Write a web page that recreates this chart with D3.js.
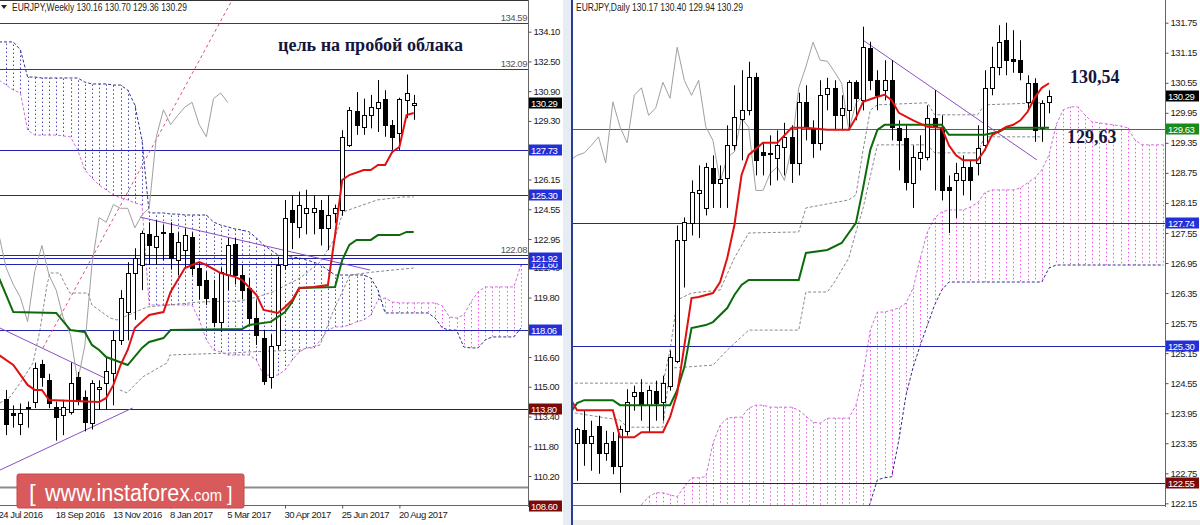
<!DOCTYPE html>
<html><head><meta charset="utf-8">
<script src="https://cdn.jsdelivr.net/npm/d3@7"></script>
<style>
body{margin:0;background:#fff;}
svg{display:block;}
</style></head><body>
<svg id="c" width="1200" height="525"></svg>
<script>
// ================= WEEKLY (left) =================
const wFirst = 1; // index of first candle (0 = 24 Jul 2016)
const wOpen  = [114.35,113.60,113.00,113.85,114.20,116.20,115.35,113.90,113.50,113.65,115.55,114.45,113.05,114.90,115.20,115.75,117.50,119.00,121.10,121.55,123.20,122.50,123.25,123.25,121.80,122.35,123.05,121.40,120.75,119.80,118.50,121.00,122.70,121.00,120.30,118.70,117.60,115.50,117.25,121.55,124.50,123.60,124.35,124.40,124.50,123.55,124.35,124.50,128.00,129.85,129.00,129.60,129.98,130.50,129.10,128.65,130.42,130.16];
const wHigh  = [114.83,114.00,114.10,114.20,116.30,116.45,115.70,114.20,114.30,116.30,115.80,114.80,115.35,115.35,116.60,118.00,120.20,121.70,122.45,123.40,123.85,123.95,123.70,123.85,123.30,123.50,123.30,121.70,121.20,120.75,121.40,123.00,123.00,121.55,120.85,119.65,118.05,117.80,122.00,125.05,125.30,125.50,125.60,125.30,125.05,125.30,124.80,128.80,130.05,130.85,130.50,130.70,131.50,130.95,129.35,130.55,131.80,130.70];
const wLow   = [112.40,112.80,112.40,112.80,113.85,115.00,113.85,112.10,112.40,113.50,114.00,112.60,112.70,113.75,113.75,114.00,117.25,117.50,118.60,120.20,121.55,121.55,121.80,121.30,121.00,121.40,121.00,119.70,119.40,118.20,117.95,120.20,120.50,119.70,118.30,117.25,115.10,114.90,117.00,121.30,122.40,123.00,123.20,123.20,122.60,122.35,123.80,124.20,127.90,128.55,128.55,128.90,128.70,128.45,127.74,127.74,129.45,129.36];
const wClose = [113.00,113.50,113.60,113.90,116.00,115.50,114.10,113.35,113.90,115.20,114.30,113.10,115.20,115.00,115.85,117.50,119.75,121.10,121.90,123.25,122.60,123.10,123.30,121.90,122.80,123.15,121.40,120.50,119.80,118.50,121.20,122.60,121.00,120.20,118.70,117.80,115.30,117.20,121.55,124.10,123.85,124.80,124.60,124.60,123.55,124.25,124.60,128.45,129.90,129.10,129.60,130.05,130.30,129.10,128.45,130.50,130.80,130.29];
const wTenkan = [[0,116.71],[2,116.17],[4,115.10],[5,114.83],[6,114.83],[7,114.29],[14,114.18],[15,114.40],[16,115.10],[17,116.17],[18,116.98],[19,118.16],[21,118.86],[23,119.02],[24,120.10],[26,121.39],[28,121.71],[29,121.55],[31,121.12],[33,120.91],[34,120.74],[36,119.94],[37,119.13],[39,118.97],[40,119.29],[41,119.67],[42,120.31],[44,120.37],[46,120.47],[47,123.16],[48,126.12],[49,126.39],[51,126.66],[52,126.66],[53,126.93],[54,126.93],[55,127.63],[56,127.90],[57,129.62],[58,129.73]];
const wKijun = [[0,120.85],[2,119.02],[8,118.97],[10,118.05],[12,117.95],[13,117.25],[14,116.98],[15,116.60],[18,116.17],[20,117.09],[21,117.41],[23,117.62],[24,118.05],[34,118.11],[35,118.32],[38,118.49],[40,119.02],[41,119.56],[42,120.31],[47,120.37],[48,121.82],[49,122.63],[50,122.90],[52,122.90],[53,123.16],[56,123.16],[57,123.33],[58,123.33]];
const wSpanStart = 0;
const wSpanA = [131.50,131.23,130.96,130.80,128.81,128.54,128.54,128.54,128.54,128.49,128.44,127.74,126.66,126.23,125.85,125.59,125.32,125.16,125.05,124.89,124.78,119.40,119.40,119.40,119.40,119.40,119.40,119.40,118.59,117.52,116.98,116.87,116.71,116.71,116.71,116.71,116.44,115.63,115.63,115.63,115.90,116.44,116.87,117.09,117.09,117.52,118.05,118.22,118.22,118.32,118.49,118.59,118.86,119.67,119.78,119.56,119.51,119.51,119.51,119.51,119.51,119.51,119.35,118.75,118.70,118.86,119.56,120.10,120.37,120.37,120.37,120.37,120.37,121.55];
const wSpanB = [133.55,133.55,133.55,133.12,131.66,131.66,131.61,131.61,131.61,131.61,131.61,131.61,131.39,131.29,131.29,131.29,131.23,131.23,130.96,130.16,128.27,124.35,124.35,124.35,124.29,124.29,124.24,124.24,124.24,124.24,123.86,123.70,123.60,123.49,123.43,123.33,123.00,122.63,122.36,122.09,122.03,121.98,121.93,121.82,121.71,121.55,121.28,121.01,121.01,121.01,121.01,121.01,120.85,120.21,118.97,118.97,118.97,118.97,118.97,118.97,118.97,118.70,118.16,118.05,118.05,117.14,117.09,117.09,117.52,117.68,117.68,117.68,117.68,118.16];
const wShift = 26;
const wUpperDash = [[0.14,114.13],[1.54,114.45],[2.94,115.20],[4.76,116.28],[5.73,118.05],[6.71,120.47],[7.13,121.12],[8.53,121.12],[8.95,120.74],[9.93,120.04],[12.45,120.04],[13.0,119.40],[15.52,118.70],[16.5,118.59],[20.7,119.29],[28.1,119.56],[33.7,119.61],[36.1,119.83],[38.3,120.10],[42.1,120.85],[44.9,121.71],[47.0,123.00],[48.1,124.40],[50.07,124.67],[52.9,125.05],[56.5,125.21],[58,125.21]];
const wLowerDash = [[16.9,114.83],[17.9,114.67],[20.1,115.53],[23.5,116.28],[23.9,116.71],[32.7,116.82],[34.7,116.87],[42.1,116.98],[44.9,117.25],[46.7,119.02],[49.1,121.01],[52.3,121.17],[58,121.39]];
const wSteepLine = [[6.15,117.09],[32.6,135.80]];
const wTrend1 = [[0.14,118.16],[14.8,115.47]];
const wTrend2 = [[0.14,110.52],[18.7,113.86]];
const wTrend3 = [[19.7,124.13],[51.9,121.28]];
const wDateIdx = [0,8,16,24,32,40,48,56];
const wDateLabels = ["24 Jul 2016","18 Sep 2016","13 Nov 2016","8 Jan 2017","5 Mar 2017","30 Apr 2017","25 Jun 2017","20 Aug 2017"];
const wTicks = [134.10,132.50,130.90,129.30,126.15,124.55,122.95,121.40,119.80,116.60,115.00,113.40,111.80,110.20];
const wNoteLevels = [134.59,132.09];
const wBlueNoteLevels = [122.08];
const wBlueLevels = [127.73,125.30,121.60,121.92,118.06];
const wRedLevels = [113.80,108.60];
const wGrayLevels = [109.61];
const wLast = 130.29;

// ================= DAILY (right) =================
const dFirst = -6; // index 0 = 15 Jun 2017
const dOpen  = [123.36,123.62,123.36,123.70,123.16,123.40,122.90,123.60,124.30,124.37,124.12,124.40,124.17,124.50,125.00,127.40,127.74,128.35,128.05,128.85,128.55,128.65,129.30,129.83,130.00,130.67,129.17,129.12,129.05,129.27,129.47,128.95,130.17,129.65,129.35,130.33,130.45,129.90,130.00,130.56,130.20,131.24,130.60,130.40,130.60,129.65,129.45,128.55,129.05,129.07,129.85,129.66,128.47,128.60,128.60,128.87,128.95,129.30,130.45,130.87,131.40,131.02,131.00,130.17,130.54,129.64,130.17];
const dHigh  = [123.66,124.00,123.80,123.90,123.60,123.57,123.70,124.43,124.50,124.63,124.50,124.60,124.70,125.20,127.70,127.86,128.60,128.90,128.95,129.10,128.90,129.70,130.50,130.80,130.97,130.75,129.35,129.50,129.60,129.75,129.70,130.35,130.50,129.80,130.60,130.65,130.60,130.30,130.60,130.60,131.67,131.37,130.80,131.00,131.00,129.80,129.70,129.30,129.50,130.10,130.40,129.90,128.70,128.95,129.10,129.00,129.70,130.80,131.27,131.70,131.75,131.60,131.40,130.70,130.64,130.20,130.40];
const dLow   = [122.60,122.90,122.80,122.74,123.00,122.73,122.36,123.50,124.00,123.80,123.56,123.80,123.80,124.40,124.95,126.46,127.50,127.45,127.90,128.05,128.05,128.05,129.20,129.00,129.90,128.70,128.70,128.50,128.60,128.70,128.55,128.70,129.40,129.05,129.20,130.00,129.60,129.60,129.60,129.80,130.00,130.40,130.00,130.20,129.40,128.80,128.40,128.05,128.80,129.00,128.40,128.20,127.55,127.85,128.30,128.20,128.70,129.20,130.30,130.70,130.70,130.75,130.60,130.00,129.37,129.37,129.94];
const dClose = [123.64,123.36,123.50,123.16,123.36,122.90,123.64,124.17,124.37,124.13,124.41,124.16,124.55,125.07,127.40,127.76,128.36,128.40,128.86,128.55,128.62,129.30,129.86,130.00,130.67,129.00,129.10,129.15,129.30,129.47,128.95,130.17,129.67,129.35,130.30,130.45,129.90,130.05,130.56,130.24,131.26,130.60,130.30,130.60,129.67,129.40,128.57,129.06,129.17,129.85,129.66,128.40,128.40,128.74,128.87,128.60,129.25,130.45,130.87,131.36,131.00,130.98,130.77,130.54,129.60,130.14,130.29];
const dTenkan = [[-7,124.25],[-6,124.01],[-1,124.01],[0,123.47],[2,123.47],[3,123.57],[6,123.57],[7,123.87],[8,124.35],[9,125.30],[10,126.25],[11,126.27],[13,126.35],[14,126.57],[15,127.05],[16,127.71],[17,128.71],[18,129.11],[20,129.35],[22,129.35],[24,129.65],[26,129.65],[29,129.61],[32,129.61],[33,129.85],[34,130.17],[36,130.27],[37,130.31],[38,130.20],[39,129.95],[41,129.80],[43,129.67],[45,129.65],[46,129.30],[47,129.10],[48,129.00],[50,129.00],[51,129.20],[52,129.50],[54,129.67],[55,129.71],[56,129.80],[57,129.97],[58,130.25],[59,130.45],[60,130.54]];
const dKijun = [[-7,123.95],[-6,124.15],[-5,124.21],[-1,124.21],[0,124.11],[7,124.11],[8,124.41],[9,124.87],[10,125.65],[12,125.71],[13,125.77],[15,126.05],[16,126.31],[17,126.51],[18,126.61],[25,126.61],[26,127.15],[29,127.21],[31,127.35],[33,127.75],[34,128.45],[35,129.21],[36,129.61],[37,129.71],[45,129.71],[46,129.51],[51,129.51],[53,129.57],[54,129.65],[60,129.65]];
const dSpanAStart = 3;
const dSpanA = [122.12,122.28,122.36,122.36,122.32,122.28,122.48,122.66,122.66,122.68,123.35,123.71,123.85,123.87,123.87,124.05,124.11,124.11,124.07,124.07,124.07,124.07,124.01,123.89,123.77,123.75,123.85,123.85,123.85,123.85,124.11,124.71,125.61,125.97,125.97,126.01,126.05,126.15,126.45,127.05,127.57,127.85,127.97,128.01,128.01,128.01,128.07,128.15,128.35,128.41,128.41,128.41,128.41,128.45,128.55,128.65,128.81,129.11,129.71,130.01,130.07,130.07,129.91,129.77,129.75,129.73,129.71,129.69,129.65,129.41,129.31,129.31,129.31,129.31];
const dSpanBStart = 34;
const dSpanB = [121.82,122.16,122.62,122.66,122.68,123.41,124.31,124.87,125.31,125.71,126.11,126.41,126.57,126.57,126.57,126.57,126.57,126.57,126.57,126.57,126.57,126.57,126.57,126.57,126.57,126.57,126.85,126.91,126.91,126.91,126.91,126.91,126.91,126.91,126.91,126.91,126.91,126.91,126.91,126.91,126.91,126.91,126.91];
const dShift = 26;
const dUpperDash = [[-7,124.55],[6,124.55],[7,125.21],[8,126.21],[10,126.35],[14,126.41],[16,127.05],[18,127.55],[25,127.57],[26,128.05],[32,128.21],[33,128.31],[34,129.21],[35,130.00],[36,130.11],[43,130.15],[44,129.91],[50,129.91],[51,130.11],[59,130.15]];
const dLowerDash = [[-7,123.97],[0,123.81],[1,123.67],[6,123.67],[7,124.85],[13,124.91],[15,125.21],[18,125.61],[25,125.61],[26,126.37],[29,126.37],[30,126.57],[32,127.05],[33,127.57],[34,128.05],[36,129.31],[43,129.31],[44,129.15],[50,129.15],[51,129.47],[59,129.47]];
const dTrend = [[34,131.40],[58.3,129.01]];
const dDateIdx = [-8,0,8,16,24,32,40,48,56];
const dDateLabels = ["5 Jun 2017","15 Jun 2017","27 Jun 2017","7 Jul 2017","19 Jul 2017","31 Jul 2017","10 Aug 2017","22 Aug 2017","1 Sep 2017"];
const dTicks = [131.75,131.15,130.55,129.95,129.35,128.75,128.15,127.55,126.95,126.35,125.75,125.15,124.55,123.95,123.35,122.75,122.15];
const dGreenLevels = [129.63];
const dBlueLevels = [127.74,125.30];
const dRedLevels = [122.55];
const dLast = 130.29;

// ================= DRAWING =================
const svg = d3.select('#c');
const AX_FONT = 'font-family:"Liberation Sans",Arial,sans-serif;font-size:9.5px;letter-spacing:-0.45px;fill:#222';
const defs = svg.append('defs');
defs.append('clipPath').attr('id','clipL').append('rect').attr('x',0).attr('y',0).attr('width',528).attr('height',506);
defs.append('clipPath').attr('id','clipR').append('rect').attr('x',573).attr('y',0).attr('width',592).attr('height',506);

const xL = d3.scaleLinear().domain([0,58]).range([-1,413.7]);
const yL = d3.scaleLinear().domain([110.20,134.10]).range([476,31.7]);
const xR = d3.scaleLinear().domain([0,60]).range([620,1049]);
const yR = d3.scaleLinear().domain([122.15,131.75]).range([503.3,22.7]);

const PINK='#e040e0', BLUE='#2a2aa8';

function drawPanel(o){
  const g = svg.append('g').attr('clip-path',`url(#${o.clip})`);
  const {x,y} = o;
  const px = i => Math.round(x(i))+0.5;
  // cloud hatch
  o.spanA.forEach((a,k)=>{
    const i = o.spanAStart + k;
    const bk = i - o.spanBStart;
    const b = (bk>=0 && bk<o.spanB.length) ? o.spanB[bk] : null;
    const y1 = y(a), y2 = b==null ? o.plotBottom : y(b);
    g.append('line').attr('x1',px(i)).attr('x2',px(i)).attr('y1',y1).attr('y2',y2)
      .attr('stroke', (b==null || a>=b) ? PINK : BLUE).attr('stroke-width',1)
      .attr('stroke-dasharray','1.5,2.5').attr('opacity',0.85);
  });
  const ln = d3.line().x(d=>x(d[0])).y(d=>y(d[1]));
  const aPts = o.spanA.map((v,k)=>[o.spanAStart+k,v]);
  const bPts = o.spanB.map((v,k)=>[o.spanBStart+k,v]);
  g.append('path').attr('d',ln(aPts)).attr('fill','none').attr('stroke','#d070d8').attr('stroke-dasharray','3,2');
  g.append('path').attr('d',ln(bPts)).attr('fill','none').attr('stroke','#30308a').attr('stroke-dasharray','3,2');
  // gray dashed lines
  [o.upperDash,o.lowerDash].forEach(d=>{
    g.append('path').attr('d',ln(d)).attr('fill','none').attr('stroke','#8a8a8a').attr('stroke-dasharray','3,2');
  });
  // horizontal levels
  const hl = (v,col,w)=> g.append('line').attr('x1',0).attr('x2',1200).attr('y1',Math.round(y(v))+0.5).attr('y2',Math.round(y(v))+0.5).attr('stroke',col).attr('stroke-width',w||1);
  (o.noteLevels||[]).forEach(v=>hl(v,'#3a3a5c'));
  (o.blueLevels||[]).forEach(v=>hl(v,'#2323b0'));
  (o.blueNoteLevels||[]).forEach(v=>hl(v,'#2323b0'));
  (o.redLevels||[]).forEach(v=>hl(v,'#7a0a0a'));
  (o.grayLevels||[]).forEach(v=>hl(v,'#8c8c8c',2));
  (o.greenLevels||[]).forEach(v=>hl(v,'#1f8a1f'));
  // trend lines
  (o.trends||[]).forEach(t=>{
    g.append('path').attr('d',ln(t)).attr('fill','none').attr('stroke','#8a4fc8').attr('stroke-width',1);
  });
  if(o.steep) g.append('path').attr('d',ln(o.steep)).attr('fill','none').attr('stroke','#d8507a').attr('stroke-dasharray','3,3');
  // chikou (closes displaced back by the shift)
  const ch = o.close.map((c,k)=>[o.first+k-o.shift,c]);
  g.append('path').attr('d',ln(ch)).attr('fill','none').attr('stroke','#a0a0a0').attr('stroke-width',1);
  // candles
  o.open.forEach((op,k)=>{
    const i=o.first+k, cx=px(i), c=o.close[k];
    g.append('line').attr('x1',cx).attr('x2',cx).attr('y1',y(o.high[k])).attr('y2',y(o.low[k])).attr('stroke','#000');
    const t=y(Math.max(op,c)), b=y(Math.min(op,c));
    g.append('rect').attr('x',cx-2).attr('width',4).attr('y',Math.round(t)+0.5).attr('height',Math.max(1,Math.round(b)-Math.round(t)))
      .attr('fill', c>=op ? '#fff':'#000').attr('stroke','#000');
  });
  // kijun & tenkan
  g.append('path').attr('d',ln(o.kijun)).attr('fill','none').attr('stroke','#0b6b0b').attr('stroke-width',2);
  g.append('path').attr('d',ln(o.tenkan)).attr('fill','none').attr('stroke','#e01010').attr('stroke-width',2);
}

drawPanel({clip:'clipL',x:xL,y:yL,plotBottom:506,first:wFirst,open:wOpen,high:wHigh,low:wLow,close:wClose,
  tenkan:wTenkan,kijun:wKijun,spanA:wSpanA,spanB:wSpanB,spanAStart:wSpanStart,spanBStart:wSpanStart,shift:wShift,
  upperDash:wUpperDash,lowerDash:wLowerDash,noteLevels:wNoteLevels,blueLevels:wBlueLevels,blueNoteLevels:wBlueNoteLevels,
  redLevels:wRedLevels,grayLevels:wGrayLevels,trends:[wTrend1,wTrend2,wTrend3],steep:wSteepLine});
drawPanel({clip:'clipR',x:xR,y:yR,plotBottom:506,first:dFirst,open:dOpen,high:dHigh,low:dLow,close:dClose,
  tenkan:dTenkan,kijun:dKijun,spanA:dSpanA,spanB:dSpanB,spanAStart:dSpanAStart,spanBStart:dSpanBStart,shift:dShift,
  upperDash:dUpperDash,lowerDash:dLowerDash,greenLevels:dGreenLevels,blueLevels:dBlueLevels,redLevels:dRedLevels,trends:[dTrend]});

// frames
svg.append('line').attr('x1',0).attr('x2',528).attr('y1',0.5).attr('y2',0.5).attr('stroke','#333');
svg.append('line').attr('x1',528.5).attr('x2',528.5).attr('y1',0).attr('y2',507).attr('stroke','#666');
svg.append('line').attr('x1',0).attr('x2',528).attr('y1',505.5).attr('y2',505.5).attr('stroke','#666');
svg.append('rect').attr('x',563).attr('y',0).attr('width',8).attr('height',525).attr('fill','#e6ecf3');
svg.append('line').attr('x1',572).attr('x2',572).attr('y1',0).attr('y2',525).attr('stroke','#2b3f8f').attr('stroke-width',2);
svg.append('line').attr('x1',1165.5).attr('x2',1165.5).attr('y1',0).attr('y2',507).attr('stroke','#666');
svg.append('line').attr('x1',573).attr('x2',1165).attr('y1',505.5).attr('y2',505.5).attr('stroke','#666');
svg.append('rect').attr('x',573).attr('y',520).attr('width',627).attr('height',5).attr('fill','#eeeeee');

// Y axes
function yAxis(y, x0, ticks){
  const g = svg.append('g').attr('transform',`translate(${x0},0)`)
    .call(d3.axisRight(y).tickValues(ticks).tickFormat(d3.format('.2f')).tickSize(3).tickPadding(2));
  g.select('.domain').remove();
  g.selectAll('line').attr('stroke','#555');
  g.selectAll('text').attr('style',AX_FONT);
}
yAxis(yL,528.5,wTicks);
yAxis(yR,1165.5,dTicks);

// X axes
function xAxis(x, idx, labels, clipX){
  const g = svg.append('g').attr('transform','translate(0,505.5)')
    .call(d3.axisBottom(x).tickValues(idx).tickFormat((d,k)=>labels[k]).tickSize(3).tickPadding(3));
  g.select('.domain').remove();
  g.selectAll('line').attr('stroke','#555');
  g.selectAll('text').attr('style',AX_FONT).attr('text-anchor','start').attr('dx','-1');
  if(clipX!=null){
    defs.append('clipPath').attr('id','clipXR').append('rect').attr('x',clipX).attr('y',500).attr('width',600).attr('height',25);
    g.attr('clip-path','url(#clipXR)');
  }
}
xAxis(xL, wDateIdx, wDateLabels, null);
xAxis(xR, dDateIdx, dDateLabels, 574);

// price boxes
function box(x0, yv, label, fill){
  const yy = Math.round(yv);
  svg.append('rect').attr('x',x0).attr('y',yy-5.5).attr('width',33).attr('height',11).attr('fill',fill);
  svg.append('text').attr('x',x0+2).attr('y',yy+3.5).text(label).attr('style',AX_FONT.replace('fill:#222','fill:#fff'));
}
wBlueLevels.forEach(v=>box(529,yL(v),v.toFixed(2),'#2330d8'));
wRedLevels.forEach(v=>box(529,yL(v),v.toFixed(2),'#7a0a0a'));
box(529,yL(wLast),wLast.toFixed(2),'#000');
dBlueLevels.forEach(v=>box(1166,yR(v),v.toFixed(2),'#2330d8'));
dRedLevels.forEach(v=>box(1166,yR(v),v.toFixed(2),'#7a0a0a'));
dGreenLevels.forEach(v=>box(1166,yR(v),v.toFixed(2),'#1a8a1a'));
box(1166,yR(dLast),dLast.toFixed(2),'#000');

// notes on levels
wNoteLevels.concat(wBlueNoteLevels).forEach(v=>{
  svg.append('text').attr('x',527).attr('y',yL(v)-2).attr('text-anchor','end').text(v.toFixed(2)).attr('style',AX_FONT.replace('fill:#222','fill:#555'));
});

// headers
svg.append('path').attr('d','M1,5 L7,5 L4,9 Z').attr('fill','#222');
svg.append('text').attr('x',12).attr('y',11).attr('textLength',175).attr('lengthAdjust','spacingAndGlyphs')
  .attr('style','font-family:"Liberation Sans",Arial,sans-serif;font-size:10px;fill:#222')
  .text('EURJPY,Weekly  130.16 130.70 129.36 130.29');
svg.append('text').attr('x',576).attr('y',11).attr('textLength',167).attr('lengthAdjust','spacingAndGlyphs')
  .attr('style','font-family:"Liberation Sans",Arial,sans-serif;font-size:10px;fill:#222')
  .text('EURJPY,Daily  130.17 130.40 129.94 130.29');

// annotations
const SERIF='font-family:"Liberation Serif","Times New Roman",serif;font-weight:bold;fill:#15153d;';
svg.append('text').attr('x',278).attr('y',51).attr('textLength',185).attr('lengthAdjust','spacingAndGlyphs')
  .attr('style',SERIF+'font-size:18px').text('цель на пробой облака');
svg.append('text').attr('x',1070).attr('y',83).attr('style',SERIF+'font-size:18px').text('130,54');
svg.append('text').attr('x',1067).attr('y',143).attr('style',SERIF+'font-size:18px').text('129,63');

// logo
const lg = svg.append('g');
lg.append('rect').attr('x',17).attr('y',474).attr('width',227).attr('height',34).attr('rx',2).attr('fill','#d85a5a').attr('stroke','#c64848');
const LOGO='font-family:"Liberation Sans",Arial,sans-serif;fill:#fff;';
lg.append('text').attr('x',29).attr('y',501).attr('style',LOGO+'font-size:24px').text('[');
lg.append('text').attr('x',45).attr('y',501).attr('textLength',145).attr('lengthAdjust','spacingAndGlyphs').attr('style',LOGO+'font-size:23px').text('www.instaforex');
lg.append('text').attr('x',190).attr('y',501).attr('textLength',32).attr('lengthAdjust','spacingAndGlyphs').attr('style',LOGO+'font-size:16px').text('.com');
lg.append('text').attr('x',227).attr('y',501).attr('style',LOGO+'font-size:20px').text(']');
</script>
</body></html>
